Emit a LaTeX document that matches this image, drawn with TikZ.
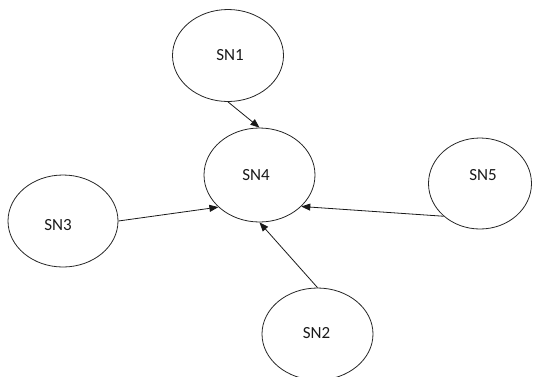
\documentclass[tikz,border=0pt]{standalone}
\usepackage{fontspec}
\setmainfont{Carlito}
\usetikzlibrary{shapes.geometric,arrows.meta}
\begin{document}
\begin{tikzpicture}[x=1pt,y=-1pt,
  sn/.style={draw=black!85,line width=0.8pt,ellipse,inner sep=0pt,minimum width=111pt,minimum height=92pt},
  lbl/.style={font=\fontsize{17}{20}\selectfont,text=black!90,inner sep=0pt},
  conn/.style={draw=black!90,line width=0.8pt,-{Triangle[length=9pt,width=7pt]}}]
\useasboundingbox (0,0) rectangle (533,376);
\node[sn] (sn1) at (228,55.5) {};
\node[sn,minimum height=94pt] (sn4) at (259.5,175) {};
\node[sn,minimum width=110pt] (sn3) at (63,221) {};
\node[sn,minimum width=103pt,minimum height=91pt] (sn5) at (480,183.5) {};
\node[sn,minimum height=92pt] (sn2) at (317.5,334) {};
\node[lbl] (t1) at (230,55) {SN1};
\node[lbl] (t4) at (256,175) {SN4};
\node[lbl] (t3) at (58,225) {SN3};
\node[lbl] (t5) at (483,175) {SN5};
\node[lbl] (t2) at (316.5,333) {SN2};
\draw[conn] (sn1.south) -- (sn4.north);
\draw[conn] (sn3.east) -- (sn4.218);
\draw[conn] (sn5.222) -- (sn4.323);
\draw[conn] (sn2.north) -- (sn4.south);
\end{tikzpicture}
\end{document}
